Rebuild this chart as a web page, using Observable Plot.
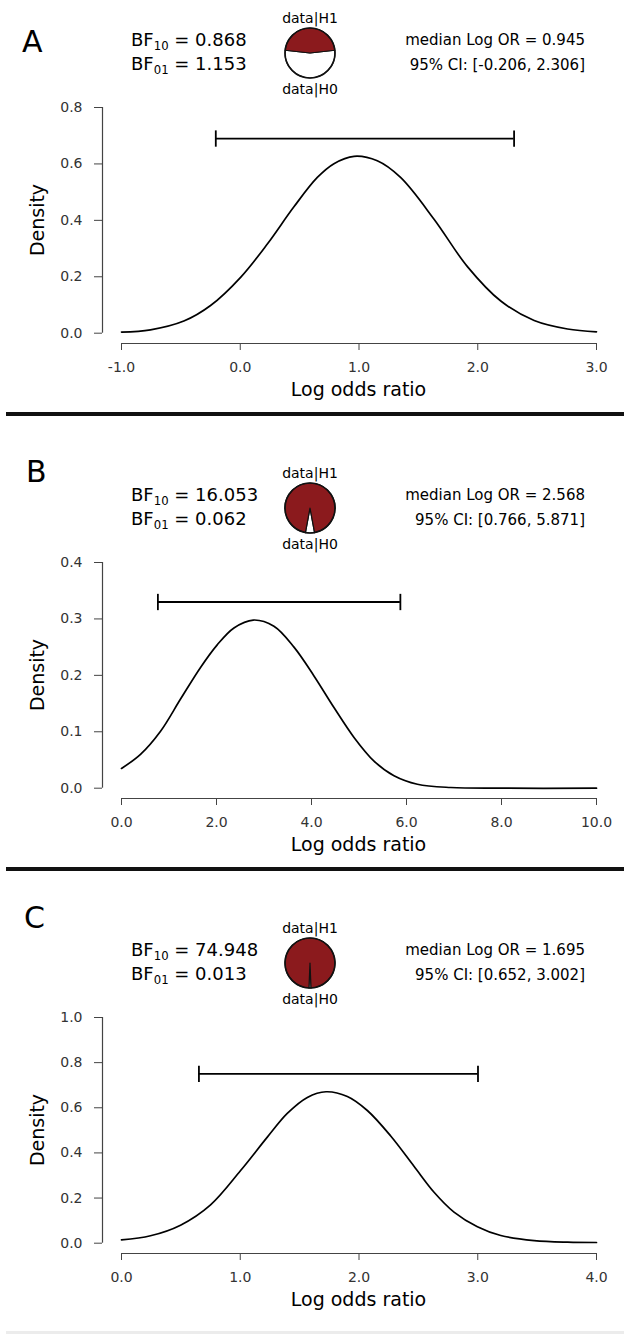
<!DOCTYPE html>
<html><head><meta charset="utf-8">
<script src="https://cdn.jsdelivr.net/npm/d3@7"></script>
<script src="https://cdn.jsdelivr.net/npm/@observablehq/plot@0.6"></script>
<style>
html,body{margin:0;padding:0;background:#fff;}
body{width:624px;height:1335px;position:relative;overflow:hidden;font-family:"DejaVu Sans",sans-serif;color:#000;}
.panel{position:absolute;left:0;width:624px;height:455px;}
.panel svg{position:absolute;left:0;top:0;}
.t{position:absolute;white-space:nowrap;line-height:1;}
.sep{position:absolute;left:6px;right:0;height:4px;background:#111;}
.sub{font-size:0.65em;position:relative;top:0.32em;}
</style></head><body>
<script>
// ---------------- data ----------------
const panelLetters = ["A", "B", "C"];
const bf10 = [0.868, 16.053, 74.948];
const bf01 = [1.153, 0.062, 0.013];
const medianLogOR = [0.945, 2.568, 1.695];
const ciLower = [-0.206, 0.766, 0.652];
const ciUpper = [2.306, 5.871, 3.002];
const ciBarHeight = [0.69, 0.33, 0.75];
const xDomains = [[-1, 3], [0, 10], [0, 4]];
const yMax = [0.8, 0.4, 1.0];
const xTicks = [[-1, 0, 1, 2, 3], [0, 2, 4, 6, 8, 10], [0, 1, 2, 3, 4]];
const yTicks = [[0, 0.2, 0.4, 0.6, 0.8], [0, 0.1, 0.2, 0.3, 0.4], [0, 0.2, 0.4, 0.6, 0.8, 1.0]];
const xLabel = "Log odds ratio";
const yLabel = "Density";

// posterior density curves
const curveAx = [-1.0, -0.756, -0.475, -0.25, 0.003, 0.228, 0.452, 0.649, 0.789, 0.958, 1.154, 1.35, 1.632, 1.913, 2.194, 2.475, 2.756, 3.0];
const curveAy = [0.004, 0.012, 0.043, 0.098, 0.198, 0.316, 0.448, 0.552, 0.601, 0.627, 0.611, 0.552, 0.404, 0.236, 0.114, 0.045, 0.015, 0.005];
const curveBx = [0, 0.40, 0.822, 1.243, 1.664, 2.015, 2.367, 2.774, 3.209, 3.631, 4.052, 4.473, 4.895, 5.316, 5.737, 6.229, 6.931, 7.98, 10];
const curveBy = [0.035, 0.060, 0.101, 0.158, 0.214, 0.254, 0.284, 0.298, 0.287, 0.250, 0.199, 0.143, 0.090, 0.048, 0.022, 0.007, 0.0012, 0.0, 0.0];
const curveCx = [0, 0.244, 0.497, 0.75, 1.003, 1.228, 1.396, 1.565, 1.722, 1.902, 2.07, 2.267, 2.463, 2.632, 2.8, 2.997, 3.194, 3.475, 3.756, 4.0];
const curveCy = [0.0146, 0.033, 0.080, 0.170, 0.322, 0.470, 0.575, 0.646, 0.671, 0.650, 0.588, 0.475, 0.341, 0.226, 0.138, 0.073, 0.034, 0.0117, 0.0044, 0.003];
const curvesX = [curveAx, curveBx, curveCx];
const curvesY = [curveAy, curveBy, curveCy];

// ---------------- layout ----------------
const W = 624, FRAME_H = 414;
const panelTop = [0, 455, 910];
const letterPos = [[22, 41.7], [26, 16.7], [24, 7.5]];
const H1_RED = "#8b1a1d";

function addText(parent, html, o) {
  const d = document.createElement("div");
  d.className = "t";
  d.innerHTML = html;
  d.style.fontSize = o.fs + "px";
  d.style.top = (o.cy - 0.4815 * o.fs) + "px";
  if (o.color) d.style.color = o.color;
  if (o.anchor === "end") d.style.right = (W - o.x) + "px";
  else if (o.anchor === "middle") { d.style.left = o.x + "px"; d.style.transform = "translateX(-50%)"; }
  else d.style.left = o.x + "px";
  parent.appendChild(d);
  return d;
}

function pieMark(pH1, cx, cy, r) {
  return (index, scales, values, dimensions, context) => {
    const g = d3.create("svg:g").attr("transform", `translate(${cx},${cy})`);
    const p0 = 1 - pH1;
    const arcs = d3.pie().sort(null)
      .startAngle(Math.PI * (1 - p0))
      .endAngle(Math.PI * (3 - p0))([p0, pH1]);
    const arc = d3.arc().innerRadius(0).outerRadius(r);
    g.selectAll("path").data(arcs).join("path")
      .attr("d", arc)
      .attr("fill", (d, k) => k === 0 ? "#fff" : H1_RED)
      .attr("stroke", "#111").attr("stroke-width", 1.2).attr("stroke-linejoin", "round");
    g.append("circle").attr("r", r).attr("fill", "none").attr("stroke", "#111").attr("stroke-width", 1.6);
    return g.node();
  };
}

const capSymbol = { draw(ctx, size) { const h = Math.sqrt(size); ctx.moveTo(0, -h); ctx.lineTo(0, h); } };

for (let i = 0; i < 3; i++) {
  const panel = document.createElement("div");
  panel.className = "panel";
  panel.style.top = panelTop[i] + "px";
  document.body.appendChild(panel);

  const curve = curvesX[i].map((x, j) => ({ x, y: curvesY[i][j] }));
  const [x0, x1] = xDomains[i];
  const pH1 = bf10[i] / (1 + bf10[i]);
  const axisColor = "#444";

  const svg = Plot.plot({
    width: W, height: FRAME_H,
    marginLeft: 102, marginRight: 28, marginTop: 107, marginBottom: 71,
    x: { domain: xDomains[i], insetLeft: 19 },
    y: { domain: [0, yMax[i]], insetBottom: 10.3 },
    style: { fontFamily: "DejaVu Sans, sans-serif", fontSize: "14px", color: "#333", background: "transparent", overflow: "visible" },
    marks: [
      Plot.axisY({ ticks: yTicks[i], tickSize: 8, tickPadding: 12, tickFormat: d => d.toFixed(1), label: null, stroke: axisColor, fill: "#333", fontSize: 14 }),
      Plot.axisX({ ticks: xTicks[i], tickSize: 7, tickPadding: 12, tickFormat: d => d.toFixed(1), label: null, stroke: axisColor, fill: "#333", fontSize: 14 }),
      Plot.ruleX([x0], { y1: 0, y2: yMax[i], dx: -19, stroke: axisColor, strokeWidth: 1.2 }),
      Plot.ruleY([0], { x1: x0, x2: x1, dy: 10.3, stroke: axisColor, strokeWidth: 1.2 }),
      Plot.line(curve, { x: "x", y: "y", curve: "catmull-rom", stroke: "#000", strokeWidth: 1.7 }),
      Plot.ruleY([ciBarHeight[i]], { x1: ciLower[i], x2: ciUpper[i], stroke: "#000", strokeWidth: 1.8 }),
      Plot.dot([ciLower[i], ciUpper[i]], { x: d => d, y: () => ciBarHeight[i], symbol: capSymbol, r: 4.6, stroke: "#000", strokeWidth: 1.8, fill: "none" }),
      pieMark(pH1, 310, 53, 25)
    ]
  });
  panel.appendChild(svg);

  addText(panel, panelLetters[i], { x: letterPos[i][0], cy: letterPos[i][1], fs: 30 });
  addText(panel, `BF<span class="sub">10</span> = ${bf10[i].toFixed(3)}`, { x: 131, cy: 39.5, fs: 18 });
  addText(panel, `BF<span class="sub">01</span> = ${bf01[i].toFixed(3)}`, { x: 131, cy: 63.7, fs: 18 });
  addText(panel, "data|H1", { x: 310, cy: 17.5, fs: 14, anchor: "middle" });
  addText(panel, "data|H0", { x: 310, cy: 89, fs: 14, anchor: "middle" });
  addText(panel, `median Log OR = ${medianLogOR[i].toFixed(3)}`, { x: 585, cy: 40, fs: 15, anchor: "end" });
  addText(panel, `95% CI: [${ciLower[i].toFixed(3)}, ${ciUpper[i].toFixed(3)}]`, { x: 585, cy: 65, fs: 15, anchor: "end" });
  addText(panel, xLabel, { x: 358.5, cy: 389.3, fs: 19, anchor: "middle" });
  const yl = addText(panel, yLabel, { x: 37, cy: 220, fs: 19 });
  yl.style.top = "220px"; yl.style.left = "37px";
  yl.style.transform = "translate(-50%,-50%) rotate(-90deg)";

  if (i < 2) {
    const s = document.createElement("div");
    s.className = "sep";
    s.style.top = (panelTop[i] + 412) + "px";
    document.body.appendChild(s);
  }
}
const faint = document.createElement("div");
faint.style.cssText = "position:absolute;left:6px;right:0;top:1331px;height:3px;background:#ececec;";
document.body.appendChild(faint);
</script>
</body></html>
